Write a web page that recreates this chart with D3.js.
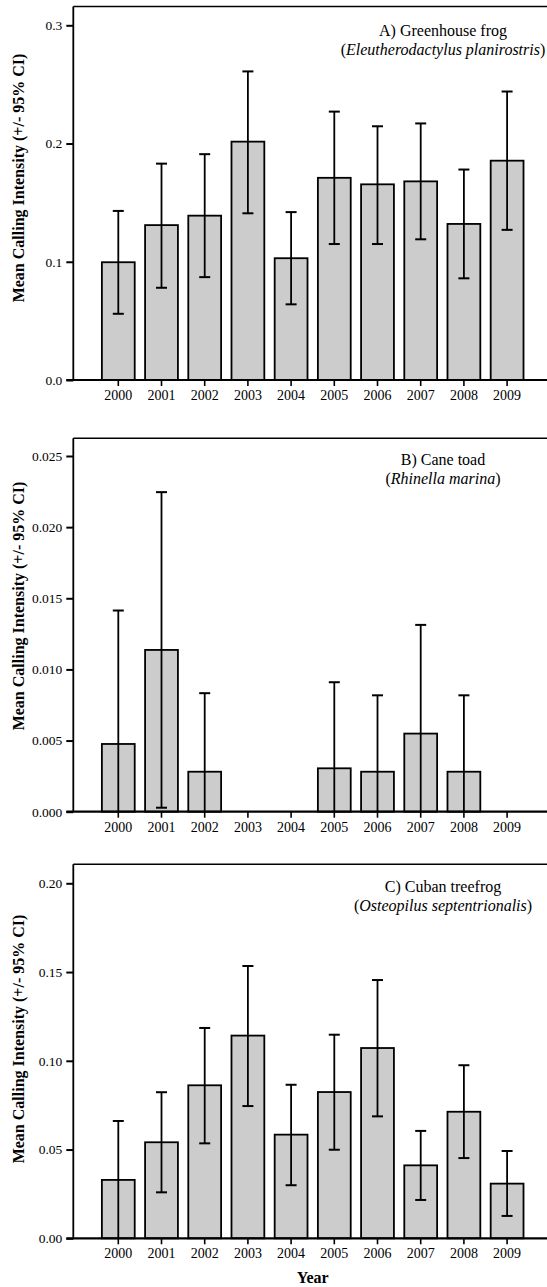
<!DOCTYPE html>
<html>
<head>
<meta charset="utf-8">
<script src="https://cdn.jsdelivr.net/npm/d3@7"></script>
<style>
  body { margin: 0; background: #fff; }
  svg text { font-family: "Liberation Serif", "LiberationSerif", Tinos, "DejaVu Serif", serif; fill: #000; }
</style>
</head>
<body>
<div id="chart-area"></div>
<script>
const WIDTH = 547
const HEIGHT = 1287

// Data
const years = ["2000", "2001", "2002", "2003", "2004", "2005", "2006", "2007", "2008", "2009"]

const frogMean = [0.0996, 0.131, 0.139, 0.2016, 0.103, 0.171, 0.1655, 0.168, 0.132, 0.1855]
const frogLow = [0.056, 0.078, 0.087, 0.141, 0.064, 0.115, 0.115, 0.119, 0.086, 0.127]
const frogHigh = [0.143, 0.183, 0.191, 0.261, 0.142, 0.227, 0.2146, 0.217, 0.178, 0.244]

const toadMean = [0.00476, 0.01137, 0.00281, null, null, 0.00305, 0.00281, 0.00549, 0.00281, null]
const toadLow = [0, 0.00028, 0, null, null, 0, 0, 0, 0, null]
const toadHigh = [0.01414, 0.02246, 0.00833, null, null, 0.0091, 0.00818, 0.01313, 0.00818, null]

const treefrogMean = [0.0329, 0.0541, 0.0862, 0.1142, 0.0584, 0.0824, 0.1072, 0.0411, 0.0713, 0.0308]
const treefrogLow = [0, 0.0259, 0.0535, 0.0745, 0.0299, 0.0499, 0.0687, 0.0216, 0.0452, 0.0126]
const treefrogHigh = [0.0661, 0.0823, 0.1185, 0.1534, 0.0865, 0.1147, 0.1455, 0.0605, 0.0975, 0.0492]

const frogTicks = [0, 0.1, 0.2, 0.3]
const toadTicks = [0, 0.005, 0.01, 0.015, 0.02, 0.025]
const treefrogTicks = [0, 0.05, 0.1, 0.15, 0.2]

const yLabelText = "Mean Calling Intensity (+/- 95% CI)"

const svg = d3.select("#chart-area").append("svg")
    .attr("width", WIDTH)
    .attr("height", HEIGHT)

const AXIS_X = 73.3

// shared category scale
const x = d3.scaleBand()
    .domain(years)
    .range([96.7, 528.7])
    .paddingInner(0.24)
    .paddingOuter(0.12)

function drawPanel(p) {
    const g = svg.append("g")

    const y = d3.scaleLinear()
        .domain([0, p.max])
        .range([p.bottom, p.topTick])

    // frame: top + left
    g.append("line")
        .attr("x1", AXIS_X).attr("x2", WIDTH)
        .attr("y1", p.frameTop).attr("y2", p.frameTop)
        .attr("stroke", "#000").attr("stroke-width", 1.6)
    g.append("line")
        .attr("x1", AXIS_X).attr("x2", AXIS_X)
        .attr("y1", p.frameTop).attr("y2", p.bottom)
        .attr("stroke", "#000").attr("stroke-width", 1.8)

    const rows = years.map((yr, i) => ({ year: yr, mean: p.mean[i], low: p.low[i], high: p.high[i] }))
        .filter(d => d.mean !== null)

    // bars
    g.selectAll(".bar")
        .data(rows)
        .enter().append("rect")
        .attr("class", "bar")
        .attr("x", d => x(d.year))
        .attr("width", x.bandwidth())
        .attr("y", d => y(d.mean))
        .attr("height", d => p.bottom - y(d.mean))
        .attr("fill", "#cccccc")
        .attr("stroke", "#000")
        .attr("stroke-width", 1.8)

    // error bars
    const cx = d => x(d.year) + x.bandwidth() / 2
    g.selectAll(".err")
        .data(rows)
        .enter().append("line")
        .attr("class", "err")
        .attr("x1", cx).attr("x2", cx)
        .attr("y1", d => y(d.low)).attr("y2", d => y(d.high))
        .attr("stroke", "#000").attr("stroke-width", 1.8)
    g.selectAll(".capHigh")
        .data(rows)
        .enter().append("line")
        .attr("class", "capHigh")
        .attr("x1", d => cx(d) - 5.5).attr("x2", d => cx(d) + 5.5)
        .attr("y1", d => y(d.high)).attr("y2", d => y(d.high))
        .attr("stroke", "#000").attr("stroke-width", 2)
    g.selectAll(".capLow")
        .data(rows.filter(d => d.low > 0))
        .enter().append("line")
        .attr("class", "capLow")
        .attr("x1", d => cx(d) - 5.5).attr("x2", d => cx(d) + 5.5)
        .attr("y1", d => y(d.low)).attr("y2", d => y(d.low))
        .attr("stroke", "#000").attr("stroke-width", 2)

    // Y Axis
    const yAxisCall = d3.axisLeft(y)
        .tickValues(p.ticks)
        .tickFormat(d3.format(p.fmt))
        .tickSize(7)
        .tickPadding(4)
    const ya = g.append("g")
        .attr("transform", `translate(${AXIS_X}, 0)`)
        .call(yAxisCall)
        .attr("font-family", null)
    ya.select(".domain").remove()
    ya.selectAll("line").attr("stroke-width", 2)
    ya.selectAll("text").attr("font-size", "13.5px")

    // X Axis
    const xAxisCall = d3.axisBottom(x)
        .tickSize(6)
        .tickPadding(4)
    const xa = g.append("g")
        .attr("transform", `translate(0, ${p.bottom})`)
        .call(xAxisCall)
        .attr("font-family", null)
    xa.select(".domain").remove()
    xa.selectAll("line").attr("stroke-width", 1.6)
    xa.selectAll("text").attr("font-size", "14px")
    g.append("line")
        .attr("x1", AXIS_X - 7).attr("x2", WIDTH)
        .attr("y1", p.bottom).attr("y2", p.bottom)
        .attr("stroke", "#000").attr("stroke-width", 2.2)

    // Y label
    g.append("text")
        .attr("transform", `translate(24, ${p.labelMid}) rotate(-90)`)
        .attr("text-anchor", "middle")
        .attr("font-size", "16px")
        .attr("font-weight", "bold")
        .text(yLabelText)

    // species annotation
    g.append("text")
        .attr("x", 443).attr("y", p.noteY)
        .attr("text-anchor", "middle")
        .attr("font-size", "16px")
        .text(p.title)
    const sci = g.append("text")
        .attr("x", 443).attr("y", p.noteY + 19)
        .attr("text-anchor", "middle")
        .attr("font-size", "16px")
    sci.append("tspan").text("(")
    sci.append("tspan").attr("font-style", "italic").text(p.species)
    sci.append("tspan").text(")")
}

drawPanel({
    mean: frogMean, low: frogLow, high: frogHigh,
    max: 0.3, ticks: frogTicks, fmt: ".1f",
    frameTop: 6.5, topTick: 25.3, bottom: 380,
    labelMid: 178, noteY: 36,
    title: "A) Greenhouse frog", species: "Eleutherodactylus planirostris"
})

drawPanel({
    mean: toadMean, low: toadLow, high: toadHigh,
    max: 0.025, ticks: toadTicks, fmt: ".3f",
    frameTop: 438.3, topTick: 456, bottom: 811.7,
    labelMid: 606, noteY: 465,
    title: "B) Cane toad", species: "Rhinella marina"
})

drawPanel({
    mean: treefrogMean, low: treefrogLow, high: treefrogHigh,
    max: 0.2, ticks: treefrogTicks, fmt: ".2f",
    frameTop: 864.3, topTick: 883.3, bottom: 1238.3,
    labelMid: 1039, noteY: 892,
    title: "C) Cuban treefrog", species: "Osteopilus septentrionalis"
})

// X label
svg.append("text")
    .attr("x", (x(years[0]) + x(years[years.length - 1]) + x.bandwidth()) / 2)
    .attr("y", 1283)
    .attr("text-anchor", "middle")
    .attr("font-size", "16px")
    .attr("font-weight", "bold")
    .text("Year")
</script>
</body>
</html>
